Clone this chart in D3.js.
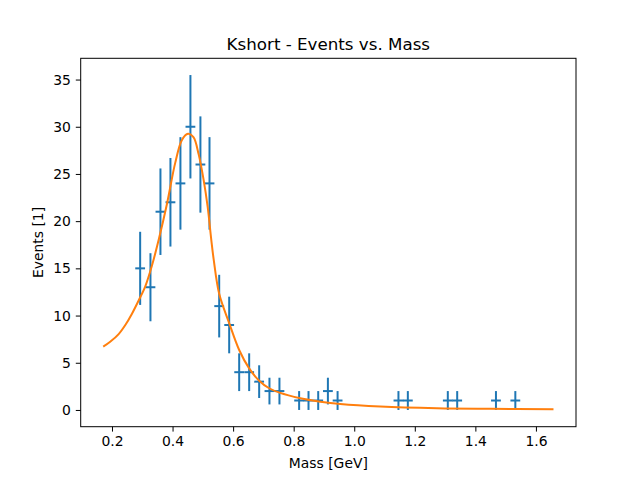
<!DOCTYPE html>
<html>
<head>
<meta charset="utf-8">
<script src="https://cdn.jsdelivr.net/npm/d3@7"></script>
<style>
  body { margin: 0; background: #fff; }
  svg { display: block; font-family: "DejaVu Sans", sans-serif; }
</style>
</head>
<body>
<svg id="chart" width="640" height="480"></svg>
<script>
// Measured data: bin centres (GeV), counts, and half bin width
const massCenters = [0.293, 0.327, 0.360, 0.393, 0.426, 0.459, 0.492, 0.522, 0.554, 0.587,
                     0.620, 0.653, 0.686, 0.720, 0.753, 0.818, 0.849, 0.881, 0.913, 0.945,
                     1.146, 1.177, 1.309, 1.340, 1.468, 1.532];
const eventCounts = [15, 13, 21, 22, 24, 30, 26, 24, 11, 9,
                     4, 4, 3, 2, 2, 1, 1, 1, 2, 1,
                     1, 1, 1, 1, 1, 1];
const massHalfWidth = 0.0162;

// Fit curve samples
const fitMass = [0.171, 0.194, 0.222, 0.244, 0.266, 0.288, 0.310, 0.332, 0.354, 0.382,
                 0.409, 0.431, 0.451, 0.469, 0.486, 0.503, 0.516, 0.528, 0.536, 0.554,
                 0.587, 0.620, 0.653, 0.686, 0.719, 0.753, 0.822, 0.888, 0.954, 1.086,
                 1.273, 1.450, 1.658];
const fitEvents = [6.7, 7.22, 8.04, 9.0, 10.2, 11.6, 13.1, 15.3, 18.0, 21.9,
                   26.2, 28.6, 29.25, 28.9, 27.1, 24.3, 21.5, 18.0, 15.9, 12.3,
                   9.2, 6.35, 4.4, 3.1, 2.3, 1.83, 1.24, 0.88, 0.63, 0.36,
                   0.18, 0.12, 0.08];

const xTicks = [0.2, 0.4, 0.6, 0.8, 1.0, 1.2, 1.4, 1.6];
const yTicks = [0, 5, 10, 15, 20, 25, 30, 35];

(function () {
const svg = d3.select("#chart");
const pL = 80.7, pR = 576, pT = 58.3, pB = 426.7;

// matplotlib-like 5% margins
const xDataMin = 0.171, xDataMax = 1.658;
const xPad = (xDataMax - xDataMin) * 0.05;
const yDataMin = 0, yDataMax = 30 + Math.sqrt(30);
const yPad = (yDataMax - yDataMin) * 0.05;

const x = d3.scaleLinear().domain([xDataMin - xPad, xDataMax + xPad]).range([pL, pR]);
const y = d3.scaleLinear().domain([yDataMin - yPad, yDataMax + yPad]).range([pB, pT]);

const blue = "#1f77b4", orange = "#ff7f0e";

// Error bars
const g = svg.append("g");
massCenters.forEach((m, i) => {
  const n = eventCounts[i];
  const e = Math.sqrt(n);
  g.append("line")
    .attr("x1", x(m)).attr("x2", x(m))
    .attr("y1", y(n - e)).attr("y2", y(n + e))
    .attr("stroke", blue).attr("stroke-width", 2);
  g.append("line")
    .attr("x1", x(m - massHalfWidth)).attr("x2", x(m + massHalfWidth))
    .attr("y1", y(n)).attr("y2", y(n))
    .attr("stroke", blue).attr("stroke-width", 2);
});

// Fit curve
const fitPts = fitMass.map((m, i) => [m, fitEvents[i]]);
svg.append("path")
  .datum(fitPts)
  .attr("fill", "none")
  .attr("stroke", orange)
  .attr("stroke-width", 2)
  .attr("d", d3.line().x(d => x(d[0])).y(d => y(d[1])).curve(d3.curveCatmullRom.alpha(0.5)));

// Frame
svg.append("rect")
  .attr("x", pL).attr("y", pT)
  .attr("width", pR - pL).attr("height", pB - pT)
  .attr("fill", "none").attr("stroke", "#000").attr("stroke-width", 1);

// Axes
const xAxis = d3.axisBottom(x).tickValues(xTicks).tickFormat(d3.format(".1f")).tickSize(4.9).tickPadding(4.9);
const yAxis = d3.axisLeft(y).tickValues(yTicks).tickFormat(d3.format("d")).tickSize(4.9).tickPadding(4.9);

const gx = svg.append("g").attr("transform", `translate(0,${pB})`).call(xAxis);
const gy = svg.append("g").attr("transform", `translate(${pL},0)`).call(yAxis);
[gx, gy].forEach(a => {
  a.select(".domain").remove();
  a.selectAll(".tick line").attr("stroke", "#000").attr("stroke-width", 1);
  a.selectAll(".tick text").attr("fill", "#000").style("font-size", "13.9px").style("font-family", "DejaVu Sans, sans-serif");
});

// Title and labels
svg.append("text")
  .attr("x", (pL + pR) / 2).attr("y", 49.5)
  .attr("text-anchor", "middle")
  .style("font-size", "16.7px")
  .text("Kshort - Events vs. Mass");

svg.append("text")
  .attr("x", (pL + pR) / 2).attr("y", 467.5)
  .attr("text-anchor", "middle")
  .style("font-size", "13.9px")
  .text("Mass [GeV]");

svg.append("text")
  .attr("transform", `translate(43,${(pT + pB) / 2}) rotate(-90)`)
  .attr("text-anchor", "middle")
  .style("font-size", "13.9px")
  .text("Events [1]");
})();
</script>
</body>
</html>
